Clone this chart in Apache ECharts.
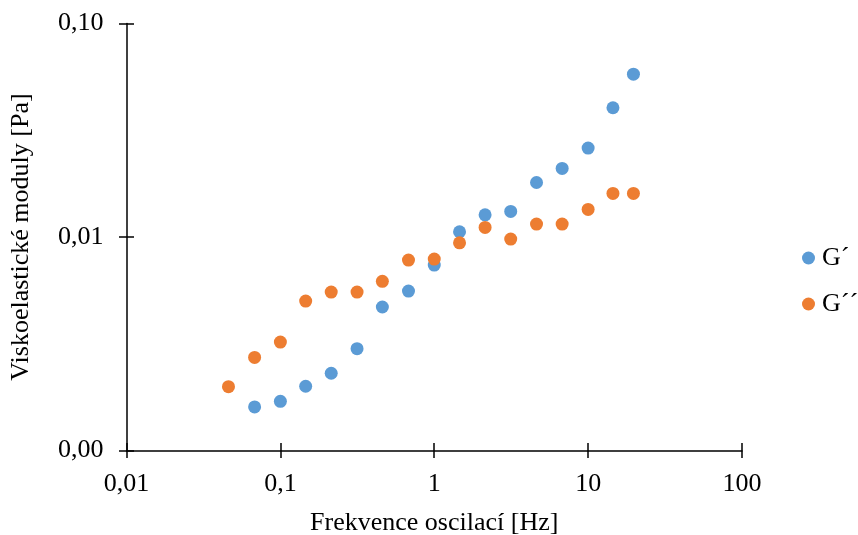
<!DOCTYPE html>
<html>
<head>
<meta charset="utf-8">
<script src="https://cdn.jsdelivr.net/npm/echarts@6/dist/echarts.min.js"></script>
<style>html,body{margin:0;padding:0;background:#fff}#c{width:858px;height:535px}</style>
</head>
<body>
<div id="c"></div>
<script>
const freqG1 = [0.068, 0.1, 0.146, 0.214, 0.315, 0.46, 0.68, 1, 1.46, 2.14, 3.14, 4.62, 6.78, 10, 14.5, 19.7];
const gPrime = [0.0016, 0.0017, 0.0020, 0.0023, 0.0030, 0.0047, 0.00558, 0.00739, 0.01058, 0.0127, 0.01318, 0.018, 0.02095, 0.0261, 0.0403, 0.0579];
const freqG2 = [0.046, 0.068, 0.1, 0.146, 0.214, 0.315, 0.46, 0.68, 1, 1.46, 2.14, 3.14, 4.62, 6.78, 10, 14.5, 19.7];
const gDoublePrime = [0.00199, 0.00273, 0.00322, 0.00501, 0.00552, 0.00552, 0.0062, 0.0078, 0.00788, 0.00939, 0.01109, 0.00978, 0.01149, 0.01149, 0.01347, 0.016, 0.016];
const xTickLabels = ['0,01', '0,1', '1', '10', '100'];
const yTickLabels = ['0,00', '0,01', '0,10'];
const seriesNames = ['G\u00B4', 'G\u00B4\u00B4'];

const FONT = 'Liberation Serif';
const FS = 26;
const chart = echarts.init(document.getElementById('c'), null, {renderer: 'canvas'});

const xBase = {
  type: 'log', logBase: 10, min: 0.01, max: 100,
  splitLine: {show: false}, minorTick: {show: false}
};
const yBase = {
  type: 'log', logBase: 10, min: 0.001, max: 0.1,
  splitLine: {show: false}, minorTick: {show: false}
};

chart.setOption({
  animation: false,
  backgroundColor: '#fff',
  grid: {left: 126.5, right: 116, top: 23.5, bottom: 84.5, containLabel: false, outerBoundsMode: 'none'},
  legend: {
    orient: 'vertical', left: 797, top: 240,
    icon: 'circle', itemWidth: 13, itemHeight: 13, itemGap: 20,
    textStyle: {fontFamily: FONT, fontSize: FS, color: '#000', padding: [0, 0, 0, 2]},
    data: seriesNames
  },
  xAxis: [
    Object.assign({}, xBase, {
      position: 'bottom',
      name: 'Frekvence oscilací [Hz]', nameLocation: 'middle', nameGap: 60,
      nameTextStyle: {fontFamily: FONT, fontSize: FS, color: '#000'},
      axisLine: {show: true, lineStyle: {color: '#000', width: 1.5}},
      axisTick: {show: true, inside: false, length: 7.5, lineStyle: {color: '#000', width: 1.5}},
      axisLabel: {show: true, margin: 21, fontFamily: FONT, fontSize: FS, color: '#000',
        formatter: (v, i) => xTickLabels[i]}
    }),
    Object.assign({}, xBase, {
      position: 'bottom',
      axisLine: {show: false},
      axisTick: {show: true, inside: true, length: 7.5, lineStyle: {color: '#000', width: 1.5}},
      axisLabel: {show: false}
    })
  ],
  yAxis: [
    Object.assign({}, yBase, {
      position: 'left',
      name: 'Viskoelastické moduly [Pa]', nameLocation: 'middle', nameGap: 92, nameRotate: 90,
      nameTextStyle: {fontFamily: FONT, fontSize: FS, color: '#000'},
      axisLine: {show: true, lineStyle: {color: '#000', width: 1.5}},
      axisTick: {show: true, inside: false, length: 7.5, lineStyle: {color: '#000', width: 1.5}},
      axisLabel: {show: true, margin: 23, fontFamily: FONT, fontSize: FS, color: '#000',
        padding: [4, 0, 0, 0],
        formatter: (v, i) => yTickLabels[i]}
    }),
    Object.assign({}, yBase, {
      position: 'left',
      axisLine: {show: false},
      axisTick: {show: true, inside: true, length: 7.5, lineStyle: {color: '#000', width: 1.5}},
      axisLabel: {show: false}
    })
  ],
  series: [
    {
      name: seriesNames[0], type: 'scatter', symbol: 'circle', symbolSize: 13,
      itemStyle: {color: '#5B9BD5', opacity: 1},
      data: freqG1.map((f, i) => [f, gPrime[i]])
    },
    {
      name: seriesNames[1], type: 'scatter', symbol: 'circle', symbolSize: 13,
      itemStyle: {color: '#ED7D31', opacity: 1},
      data: freqG2.map((f, i) => [f, gDoublePrime[i]])
    }
  ]
});
</script>
</body>
</html>
